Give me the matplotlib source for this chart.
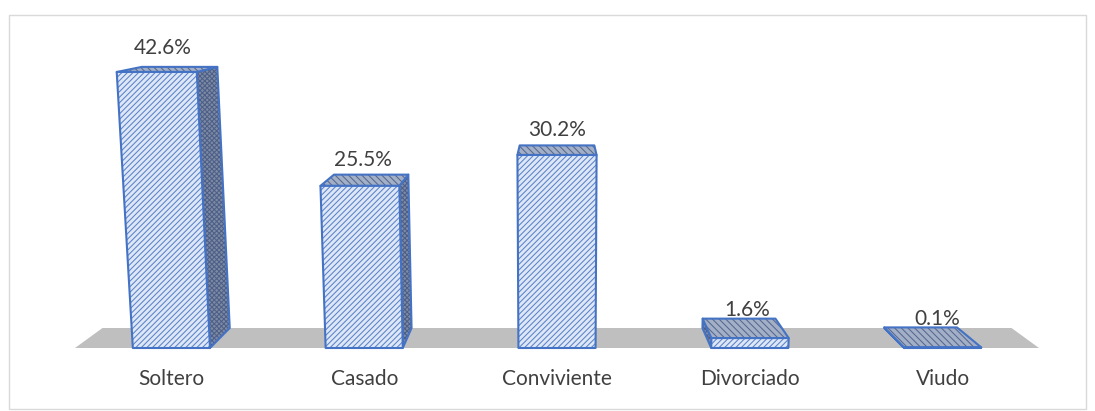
import matplotlib
matplotlib.use("Agg")
import matplotlib.pyplot as plt
from matplotlib.patches import Polygon, Rectangle

# ---- data ----
categories = ["Soltero", "Casado", "Conviviente", "Divorciado", "Viudo"]
values = [42.6, 25.5, 30.2, 1.6, 0.1]
value_labels = ["42.6%", "25.5%", "30.2%", "1.6%", "0.1%"]

plt.rcParams['font.family'] = ['Lato', 'DejaVu Sans']
plt.rcParams['hatch.linewidth'] = 0.75

W, H = 1095, 411
fig = plt.figure(figsize=(W / 100, H / 100), dpi=100)
ax = fig.add_axes([0, 0, 1, 1])
ax.set_xlim(0, W)
ax.set_ylim(H, 0)
ax.axis('off')

# ---- scene geometry (perspective floor) ----
floor_left, floor_right = 75.0, 1039.0
y0 = 348.0           # front floor edge
cx = (floor_left + floor_right) / 2
floor_depth = 20.0
slot = (floor_right - floor_left) / len(categories)
half_w = 0.2 * slot


def height_px(v):
    return 6.177 * v * (1 + 0.00115 * v)


def proj(X, d, Z):
    s = (1 - 0.057 * d) * (1 + 0.038 * Z / 276.0)
    x = cx + (X - cx) * s
    y = y0 - Z - d * floor_depth * (1 - Z / 370.0)
    return (x, y)


# frame
ax.add_patch(Rectangle((9, 15), 1077, 394, fill=False, edgecolor='#d9d9d9', lw=1.0))

# floor
ax.add_patch(Polygon([proj(floor_left, 0, 0), proj(floor_right, 0, 0),
                      proj(floor_right, 1, 0), proj(floor_left, 1, 0)],
                     closed=True, facecolor='#bfbfbf', edgecolor='none', zorder=1))

edge = '#4472c4'


def face(pts, fc, hatch, hc, z):
    ax.add_patch(Polygon(pts, closed=True, facecolor=fc, edgecolor=hc, hatch=hatch,
                         lw=0, zorder=z))
    ax.add_patch(Polygon(pts, closed=True, fill=False, edgecolor=edge, lw=1.5,
                         joinstyle='round', zorder=z + 0.1))


for i, (cat, v, lab) in enumerate(zip(categories, values, value_labels)):
    xc = floor_left + slot * (i + 0.5)
    xl, xr = xc - half_w, xc + half_w
    Z = height_px(v)
    # side faces
    if xr < cx - 1:
        side = [proj(xr, 0, 0), proj(xr, 1, 0), proj(xr, 1, Z), proj(xr, 0, Z)]
        face(side, '#7d8aa3', 'xxxxxxx', '#4d5f88', 2)
    if xl > cx + 1:
        side = [proj(xl, 0, 0), proj(xl, 1, 0), proj(xl, 1, Z), proj(xl, 0, Z)]
        face(side, '#7d8aa3', 'xxxxxxx', '#4d5f88', 2)
    # top
    top = [proj(xl, 0, Z), proj(xr, 0, Z), proj(xr, 1, Z), proj(xl, 1, Z)]
    face(top, '#a3afc6', '\\\\\\\\\\', '#55688e', 3)
    # front
    front = [proj(xl, 0, 0), proj(xr, 0, 0), proj(xr, 0, Z), proj(xl, 0, Z)]
    face(front, '#dde7f6', '//////', '#5b82c9', 4)
    # value label
    lx, ly = proj(xc, 0.25, Z)
    ax.text(lx, ly - 23, lab, ha='center', va='center', fontsize=15,
            color='#404040', zorder=6)
    # category label
    ax.text(xc, 379, cat, ha='center', va='center', fontsize=15, color='#404040')

fig.savefig('out.png', dpi=100)
